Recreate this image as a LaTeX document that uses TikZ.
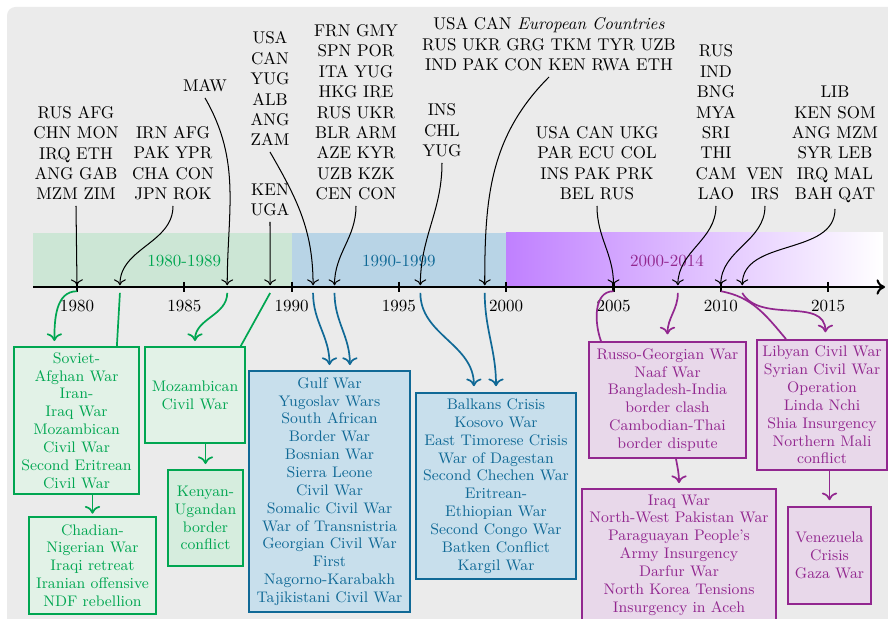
\documentclass[tikz,border=0pt]{standalone}
\usetikzlibrary{arrows.meta}
\definecolor{backdrop}{RGB}{235,235,235}
\definecolor{ecogreen}{RGB}{0,166,81}
\definecolor{greenband}{RGB}{204,230,213}
\definecolor{greenbox}{RGB}{226,242,231}
\definecolor{greenboxdark}{RGB}{214,237,222}
\definecolor{nineblue}{RGB}{16,105,150}
\definecolor{blueband}{RGB}{184,212,230}
\definecolor{bluebox}{RGB}{200,223,236}
\definecolor{noughtpurple}{RGB}{146,39,143}
\definecolor{purpleband}{RGB}{192,128,255}
\definecolor{purplebox}{RGB}{232,216,234}
\tikzset{countries/.style={ % Country codes above the axis
align=center,
anchor=south},
pointer/.style={ % Black arrows down to the axis
-{To[length=3.5pt,width=7pt]},
semithick},
link/.style={ % Coloured arrows from the axis to a box
-{To[length=4.5pt,width=9pt]},
line width=1pt},
plain link/.style={ % Same, with no arrow head
line width=1pt},
warbox/.style={ % Box with the wars of a period
draw,
line width=1pt,
align=center,
inner sep=2pt,
font=\fontsize{9}{10.5}\selectfont},
eighties/.style={warbox, draw=ecogreen, fill=greenbox, text=ecogreen},
nineties/.style={warbox, draw=nineblue, fill=bluebox, text=nineblue},
noughties/.style={warbox, draw=noughtpurple, fill=purplebox, text=noughtpurple}}

\begin{document}
\begin{tikzpicture}[x=0.5882pt,y=-0.5882pt]
  \useasboundingbox (0,0) rectangle (888,619);
  \fill[backdrop, rounded corners=5pt] (7,7) rectangle (905,640);

  \fill[greenband] (33,233) rectangle (291.6,287);
  \fill[blueband] (291.6,233) rectangle (506.2,287);
  \shade[left color=purpleband, right color=white] (506.2,233) rectangle (883,287);
  \node[text=ecogreen]     at (184.3,261) {1980-1989};
  \node[text=nineblue]     at (398.9,261) {1990-1999};
  \node[text=noughtpurple] at (667,261)   {2000-2014};

  \draw[line width=1.2pt, -{To[length=5pt,width=9pt]}] (33,287) -- (885,287);
  \foreach \yr in {1980,1985,...,2015}
    \draw[line width=1.2pt] ({77+(\yr-1980)*21.46},282) -- ++(0,10) node[below=1pt] {\yr};
  \foreach \yr in {1980,1982,1987,1989,1991,1992,1996,1999,2005,2008,2010,2011}
    \coordinate (y\yr) at ({77+(\yr-1980)*21.46},287);

  \node[countries] (lab80) at (76,206)  {RUS AFG\\CHN MON\\IRQ ETH\\ANG GAB\\MZM ZIM};
  \node[countries] (lab82) at (173,206) {IRN AFG\\PAK YPR\\CHA CON\\JPN ROK};
  \node[countries] (lab87) at (205,98)  {MAW};
  \node[countries] (lab91) at (270,152) {USA\\CAN\\YUG\\ALB\\ANG\\ZAM};
  \node[countries] (lab89) at (270,222) {KEN\\UGA};
  \node[countries] (lab92) at (356,206) {FRN GMY\\SPN POR\\ITA YUG\\HKG IRE\\RUS UKR\\BLR ARM\\AZE KYR\\UZB KZK\\CEN CON};
  \node[countries] (lab96) at (442,163) {INS\\CHL\\YUG};
  \node[countries] (lab99) at (549,77)  {USA CAN \textit{European Countries}\\RUS UKR GRG TKM TYR UZB\\IND PAK CON KEN RWA ETH};
  \node[countries] (lab05) at (597,206) {USA CAN UKG\\PAR ECU COL\\INS PAK PRK\\BEL RUS};
  \node[countries] (lab08) at (716,206) {RUS\\IND\\BNG\\MYA\\SRI\\THI\\CAM\\LAO};
  \node[countries] (lab10) at (765,206) {VEN\\IRS};
  \node[countries] (lab11) at (835,209) {LIB\\KEN SOM\\ANG MZM\\SYR LEB\\IRQ MAL\\BAH QAT};

  \draw[pointer] (lab80.south) -- ([yshift=1pt]y1980);
  \draw[pointer] (lab82.south) to[out=-90,in=90] ([yshift=1pt]y1982);
  \draw[pointer] (lab87.south) to[out=-60,in=90] ([yshift=1pt]y1987);
  \draw[pointer] (lab91.south) to[out=-60,in=90] ([yshift=1pt]y1991);
  \draw[pointer] (lab89.south) -- ([yshift=1pt]y1989);
  \draw[pointer] (lab92.south) to[out=-90,in=90] ([yshift=1pt]y1992);
  \draw[pointer] (lab96.south) to[out=-90,in=90] ([yshift=1pt]y1996);
  \draw[pointer] (lab99.south) to[out=-135,in=90] ([yshift=1pt]y1999);
  \draw[pointer] (lab05.south) to[out=-90,in=90] ([yshift=1pt]y2005);
  \draw[pointer] (lab08.south) to[out=-90,in=90] ([yshift=1pt]y2008);
  \draw[pointer] (lab10.south) to[out=-90,in=90] ([yshift=1pt]y2010);
  \draw[pointer] (lab11.south) to[out=-90,in=90] ([yshift=1pt]y2011);

  \node[eighties, minimum width=73.5pt, minimum height=86.5pt] (soviet) at (76.5,420.5)
    {Soviet-\\Afghan War\\Iran-\\Iraq War\\Mozambican\\Civil War\\Second Eritrean\\Civil War};
  \node[eighties, minimum width=74.7pt, minimum height=57pt] (chadian) at (92.5,565.5)
    {Chadian-\\Nigerian War\\Iraqi retreat\\Iranian offensive\\NDF rebellion};
  \node[eighties, minimum width=58.8pt, minimum height=56.5pt] (mozamb) at (195,395)
    {Mozambican\\Civil War};
  \node[eighties, fill=greenboxdark, minimum width=44pt, minimum height=56.5pt] (kenyan) at (205.5,518)
    {Kenyan-\\Ugandan\\border\\conflict};
  \node[nineties, minimum width=94.7pt, minimum height=141.8pt] (gulf) at (329.5,491.5)
    {Gulf War\\Yugoslav Wars\\South African\\Border War\\Bosnian War\\Sierra Leone\\Civil War\\Somalic Civil War\\War of Transnistria\\Georgian Civil War\\First\\Nagorno-Karabakh\\Tajikistani Civil War};
  \node[nineties, minimum width=94pt, minimum height=109.4pt] (balkans) at (496,486)
    {Balkans Crisis\\Kosovo War\\East Timorese Crisis\\War of Dagestan\\Second Chechen War\\Eritrean-\\Ethiopian War\\Second Congo War\\Batken Conflict\\Kargil War};
  \node[noughties, minimum width=92.4pt, minimum height=68.2pt] (russo) at (667.5,400)
    {Russo-Georgian War\\Naaf War\\Bangladesh-India\\border clash\\Cambodian-Thai\\border dispute};
  \node[noughties, minimum width=114pt, minimum height=77.6pt] (iraq) at (679,555)
    {Iraq War\\North-West Pakistan War\\Paraguayan People's\\Army Insurgency\\Darfur War\\North Korea Tensions\\Insurgency in Aceh};
  \node[noughties, minimum width=76.5pt, minimum height=76.5pt] (libyan) at (822,405)
    {Libyan Civil War\\Syrian Civil War\\Operation\\Linda Nchi\\Shia Insurgency\\Northern Mali\\conflict};
  \node[noughties, minimum width=48.8pt, minimum height=57pt] (venez) at (829.5,555.5)
    {Venezuela\\Crisis\\Gaza War};

  \draw[link, ecogreen] ([yshift=-2.5pt]y1980) to[out=180,in=90] ([xshift=-13pt,yshift=3pt]soviet.north);
  \draw[plain link, ecogreen] ([yshift=-3.5pt]y1982) -- ([xshift=-13.5pt]soviet.north east);
  \draw[link, ecogreen] ([yshift=-3.5pt]y1987) to[out=-90,in=90] ([yshift=3pt]mozamb.north);
  \draw[plain link, ecogreen] ([yshift=-3.5pt]y1989) -- ([xshift=-3pt]mozamb.north east);
  \draw[link, ecogreen] (soviet.south -| chadian.north) -- ([yshift=1.5pt]chadian.north);
  \draw[link, ecogreen] (mozamb.south -| kenyan.north) -- ([yshift=3pt]kenyan.north);

  \draw[link, nineblue] ([yshift=-3.5pt]y1991) to[out=-90,in=90] ([yshift=3pt]gulf.north);
  \draw[link, nineblue] ([yshift=-3.5pt]y1992) to[out=-90,in=90] ([xshift=12pt,yshift=3pt]gulf.north);
  \draw[link, nineblue] ([yshift=-3.5pt]y1996) to[out=-90,in=90] ([xshift=-13pt,yshift=3.5pt]balkans.north);
  \draw[link, nineblue] ([yshift=-3.5pt]y1999) to[out=-90,in=90] ([yshift=3.5pt]balkans.north);

  \draw[plain link, noughtpurple] ([yshift=-2.5pt]y2005) to[out=180,in=110] ([xshift=7.6pt]russo.north west);
  \draw[link, noughtpurple] ([yshift=-3.5pt]y2008) to[out=-90,in=90] ([yshift=4pt]russo.north);
  \draw[plain link, noughtpurple] ([yshift=-2.5pt]y2010) to[out=-10,in=130] ([xshift=17.6pt]libyan.north west);
  \draw[link, noughtpurple] ([yshift=-3.5pt]y2011) to[out=-60,in=90] ([xshift=2pt,yshift=4pt]libyan.north);
  \draw[link, noughtpurple] ([xshift=5pt]russo.south) to[out=-80,in=90] ([yshift=3pt]iraq.north);
  \draw[link, noughtpurple] (libyan.south -| venez.north) -- ([yshift=3.5pt]venez.north);
\end{tikzpicture}
\end{document}
